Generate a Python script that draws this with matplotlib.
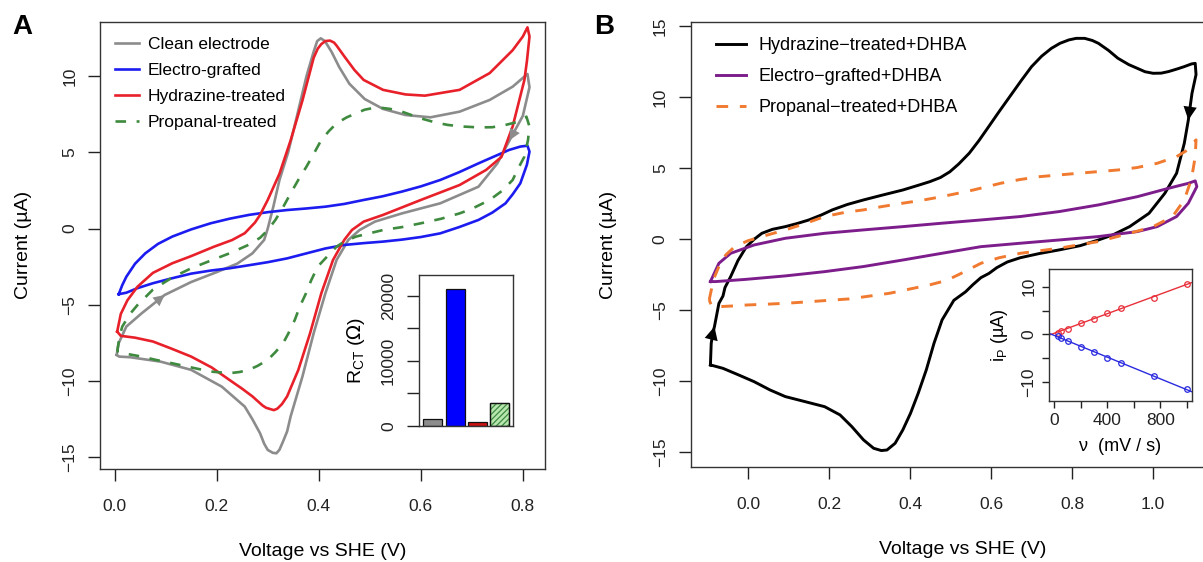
import numpy as np
import matplotlib.pyplot as plt

plt.rcParams['font.family'] = 'Liberation Sans'
plt.rcParams['hatch.linewidth'] = 0.9
plt.rcParams['lines.solid_joinstyle'] = 'round'

# ---- panel A: CVs of the four electrodes (V vs SHE, uA) ----
v_clean = [0.004, 0.008, 0.023, 0.053, 0.098, 0.15, 0.2, 0.24, 0.27, 0.293, 0.30, 0.311, 0.323,
           0.34, 0.357, 0.376, 0.39, 0.397, 0.404, 0.412, 0.425, 0.44, 0.46, 0.49, 0.526, 0.57,
           0.619, 0.676, 0.735, 0.78, 0.809,
           0.813, 0.80, 0.774, 0.75, 0.713, 0.638, 0.563, 0.51, 0.48, 0.458, 0.435, 0.413, 0.39,
           0.368, 0.345, 0.338, 0.33, 0.323, 0.317, 0.31, 0.30, 0.293, 0.285, 0.27, 0.255, 0.21,
           0.15, 0.09, 0.03, 0.009, 0.004]
i_clean = [-8.28, -7.5, -6.42, -5.55, -4.35, -3.5, -2.85, -2.3, -1.62, -0.74, 0.0, 1.44, 3.19,
           5.0, 7.34, 10.0, 11.6, 12.3, 12.48, 12.3, 11.6, 10.6, 9.5, 8.5, 7.85, 7.45,
           7.3, 7.67, 8.44, 9.31, 10.14,
           9.27, 7.4, 5.8, 4.28, 2.75, 1.66, 1.0, 0.46, -0.09, -0.74, -2.05, -4.24, -6.86,
           -9.7, -12.3, -13.3, -13.96, -14.5, -14.73, -14.7, -14.51, -14.1, -13.42, -12.5, -11.67, -10.36,
           -9.26, -8.72, -8.43, -8.39, -8.28]

v_graft = [0.008, 0.015, 0.023, 0.04, 0.06, 0.085, 0.113, 0.15, 0.188, 0.225, 0.263, 0.3, 0.338,
           0.375, 0.413, 0.45, 0.488, 0.525, 0.563, 0.6, 0.638, 0.675, 0.713, 0.745, 0.773, 0.795,
           0.809, 0.813, 0.808, 0.795, 0.78, 0.766, 0.74, 0.713, 0.675, 0.638, 0.6, 0.563, 0.526,
           0.488, 0.45, 0.413, 0.376, 0.338, 0.3, 0.263, 0.225, 0.188, 0.15, 0.113, 0.075, 0.045,
           0.023, 0.008]
i_graft = [-4.3, -3.7, -3.15, -2.3, -1.62, -1.0, -0.52, -0.05, 0.35, 0.65, 0.9, 1.08, 1.22,
           1.32, 1.44, 1.62, 1.88, 2.12, 2.43, 2.77, 3.19, 3.7, 4.28, 4.75, 5.16, 5.38,
           5.44, 5.05, 4.2, 2.97, 2.25, 1.66, 1.05, 0.57, 0.1, -0.31, -0.55, -0.72, -0.85,
           -0.95, -1.07, -1.3, -1.62, -1.95, -2.2, -2.4, -2.6, -2.75, -2.95, -3.25, -3.58, -3.9,
           -4.2, -4.3]

v_hydra = [0.005, 0.012, 0.025, 0.045, 0.075, 0.113, 0.15, 0.195, 0.23, 0.255, 0.275, 0.285,
           0.30, 0.323, 0.345, 0.368, 0.39, 0.398, 0.405, 0.413, 0.422, 0.43, 0.435, 0.45, 0.47,
           0.488, 0.526, 0.57, 0.608, 0.676, 0.735, 0.78, 0.80, 0.809,
           0.813, 0.808, 0.803, 0.78, 0.758, 0.728, 0.676, 0.6, 0.526, 0.488, 0.465, 0.45, 0.428,
           0.405, 0.383, 0.36, 0.338, 0.328, 0.319, 0.312, 0.304, 0.297, 0.29, 0.27, 0.25, 0.225,
           0.19, 0.15, 0.11, 0.075, 0.04, 0.012, 0.005]
i_hydra = [-6.75, -5.6, -4.7, -3.8, -2.9, -2.27, -1.8, -1.18, -0.75, -0.3, 0.4, 0.9,
           1.88, 3.6, 5.8, 8.4, 11.2, 11.8, 12.1, 12.3, 12.33, 12.2, 12.0, 11.3, 10.4,
           9.75, 9.1, 8.8, 8.72, 9.1, 10.2, 11.7, 12.6, 13.2,
           12.6, 11.0, 9.75, 6.7, 4.7, 3.85, 2.86, 1.88, 0.9, 0.46, -0.09, -0.74, -2.05,
           -4.24, -6.86, -9.26, -11.0, -11.5, -11.8, -11.9, -11.82, -11.75, -11.6, -11.0, -10.5, -9.92,
           -9.1, -8.39, -7.85, -7.4, -7.15, -7.03, -6.75]

v_prop = [0.005, 0.01, 0.015, 0.03, 0.045, 0.075, 0.113, 0.15, 0.188, 0.225, 0.26, 0.285, 0.3,
          0.315, 0.33, 0.345, 0.36, 0.376, 0.39, 0.405, 0.42, 0.435, 0.455, 0.473, 0.49, 0.514,
          0.54, 0.563, 0.6, 0.63, 0.653, 0.68, 0.713, 0.74, 0.766, 0.79, 0.807,
          0.813, 0.81, 0.803, 0.79, 0.78, 0.76, 0.735, 0.7, 0.676, 0.64, 0.6, 0.563, 0.526, 0.5,
          0.473, 0.45, 0.435, 0.42, 0.398, 0.385, 0.375, 0.363, 0.353, 0.34, 0.33, 0.315, 0.3,
          0.28, 0.263, 0.245, 0.225, 0.188, 0.15, 0.113, 0.08, 0.053, 0.03, 0.015, 0.005]
i_prop = [-8.06, -7.0, -6.42, -5.6, -5.0, -4.0, -3.2, -2.6, -2.1, -1.62, -1.1, -0.6, -0.1,
          0.57, 1.4, 2.32, 3.2, 4.07, 4.9, 5.81, 6.4, 6.91, 7.3, 7.56, 7.8, 7.96,
          7.85, 7.67, 7.23, 6.95, 6.8, 6.7, 6.64, 6.65, 6.8, 7.0, 7.34,
          6.69, 5.8, 4.72, 3.9, 3.19, 2.5, 1.88, 1.3, 1.0, 0.65, 0.35, 0.1, -0.09, -0.3,
          -0.52, -0.85, -1.18, -1.7, -2.49, -3.4, -4.24, -5.1, -5.99, -6.9, -7.52, -8.1, -8.61,
          -9.0, -9.26, -9.4, -9.48, -9.37, -9.1, -8.83, -8.6, -8.39, -8.25, -8.17, -8.06]

# inset A: charge-transfer resistance
rct_labels = ['Clean electrode', 'Electro-grafted', 'Hydrazine-treated', 'Propanal-treated']
rct_values = [1100, 21100, 680, 3550]

# ---- panel B: CVs with DHBA ----
v_hyd_d = [-0.093, -0.091, -0.087, -0.083, -0.072, -0.062, -0.057, -0.043, -0.025, -0.004, 0.015,
           0.034, 0.06, 0.092, 0.12, 0.15, 0.18, 0.208, 0.245, 0.285, 0.33, 0.382, 0.42, 0.449,
           0.475, 0.498, 0.52, 0.546, 0.57, 0.594, 0.62, 0.652, 0.675, 0.70, 0.725, 0.749, 0.77,
           0.792, 0.81, 0.831, 0.85, 0.865, 0.89, 0.913, 0.94, 0.961, 0.98, 1.0, 1.02, 1.038,
           1.06, 1.077, 1.095, 1.104,
           1.106, 1.096, 1.087, 1.077, 1.058, 1.029, 0.99, 0.942, 0.9, 0.865, 0.82, 0.768, 0.72,
           0.672, 0.64, 0.614, 0.595, 0.575, 0.555, 0.537, 0.508, 0.479, 0.459, 0.44, 0.42, 0.401,
           0.382, 0.363, 0.343, 0.329, 0.31, 0.285, 0.256, 0.227, 0.189, 0.14, 0.092, 0.054,
           0.015, -0.023, -0.062, -0.093]
i_hyd_d = [-8.85, -7.33, -6.6, -6.15, -4.51, -4.0, -3.4, -2.63, -1.5, -0.52, 0.0,
           0.42, 0.7, 0.89, 1.1, 1.36, 1.7, 2.07, 2.45, 2.77, 3.1, 3.47, 3.8, 4.06,
           4.35, 4.75, 5.3, 6.06, 6.95, 7.93, 9.0, 10.28, 11.2, 12.16, 12.9, 13.45, 13.8,
           14.04, 14.15, 14.15, 14.0, 13.8, 13.3, 12.75, 12.3, 12.04, 11.8, 11.69, 11.7, 11.81,
           12.0, 12.16, 12.35, 12.39,
           11.6, 10.28, 8.4, 6.76, 4.65, 3.24, 1.83, 0.89, 0.3, -0.05, -0.45, -0.75, -1.0,
           -1.3, -1.6, -2.0, -2.4, -2.7, -3.2, -3.7, -4.3, -5.68, -7.33, -9.2, -10.85, -12.26,
           -13.43, -14.37, -14.84, -14.88, -14.72, -14.13, -13.19, -12.37, -11.79, -11.43, -11.08, -10.61,
           -10.03, -9.56, -9.09, -8.85]

v_graft_d = [-0.093, -0.072, -0.043, 0.015, 0.092, 0.189, 0.285, 0.382, 0.478, 0.575, 0.672,
             0.768, 0.865, 0.961, 1.038, 1.087, 1.104, 1.108, 1.087, 1.058, 1.01, 0.961, 0.865,
             0.768, 0.672, 0.575, 0.478, 0.382, 0.285, 0.189, 0.092, -0.004, -0.08, -0.093]
i_graft_d = [-2.98, -1.69, -0.99, -0.4, 0.07, 0.42, 0.66, 0.89, 1.13, 1.36, 1.6,
             1.95, 2.42, 3.0, 3.59, 3.94, 4.11, 3.71, 2.54, 1.6, 0.89, 0.54, 0.19,
             -0.05, -0.28, -0.52, -0.99, -1.46, -1.92, -2.28, -2.58, -2.82, -2.98, -2.98]

v_prop_d = [-0.096, -0.091, -0.085, -0.072, -0.055, -0.033, 0.0, 0.034, 0.092, 0.14, 0.189, 0.24,
            0.285, 0.33, 0.382, 0.43, 0.478, 0.52, 0.556, 0.623, 0.67, 0.72, 0.816, 0.913, 0.96,
            1.01, 1.058, 1.08, 1.091, 1.106,
            1.104, 1.098, 1.091, 1.077, 1.048, 1.0, 0.942, 0.865, 0.768, 0.672, 0.62, 0.575,
            0.527, 0.49, 0.45, 0.4, 0.35, 0.3, 0.25, 0.189, 0.14, 0.092, 0.04, -0.004, -0.04,
            -0.075, -0.09, -0.096]
i_prop_d = [-4.27, -3.6, -2.8, -1.92, -1.1, -0.52, -0.1, 0.19, 0.66, 1.1, 1.6, 1.9,
            2.07, 2.3, 2.54, 2.75, 3.0, 3.25, 3.47, 3.94, 4.2, 4.41, 4.65, 4.88, 5.05,
            5.35, 5.82, 6.2, 6.53, 7.0,
            5.82, 4.8, 3.94, 2.77, 1.6, 0.89, 0.42, -0.16, -0.63, -0.99, -1.3, -1.69,
            -2.39, -2.9, -3.2, -3.5, -3.8, -4.0, -4.2, -4.32, -4.42, -4.51, -4.58, -4.63, -4.7,
            -4.75, -4.7, -4.27]

# inset B: peak current vs scan rate
scan_rate = [25, 50, 100, 200, 300, 400, 500, 750, 1000]
ip_anodic = [0.35, 0.7, 1.2, 2.45, 3.3, 4.5, 5.5, 7.6, 10.6]
ip_cathodic = [-0.35, -0.7, -1.4, -2.6, -3.8, -4.9, -6.1, -8.8, -11.5]

GRAY, BLUE, RED, GREEN = '#8c8c8c', '#1c1cf0', '#e8202a', '#3e8a3e'
PURPLE, ORANGE = '#7d1d8c', '#f07a30'
LW = 1.9


def arrow_on(ax, v, i, k, color, size):
    # arrow head sitting on the curve at point k, pointing along the sweep
    ax.annotate('', xy=(v[k], i[k]), xytext=(v[k - 1], i[k - 1]),
                arrowprops=dict(arrowstyle='-|>', color=color, lw=0,
                                mutation_scale=size, shrinkA=0, shrinkB=0))


def style_axes(ax, fs, length=8.5, xpad=13, ypad=8):
    ax.tick_params(direction='out', length=length, width=1, labelsize=fs, colors='#222222')
    ax.tick_params(axis='x', pad=xpad)
    ax.tick_params(axis='y', pad=ypad)
    for lab in ax.get_yticklabels():
        lab.set_rotation(90)
        lab.set_va('center')
    for s in ax.spines.values():
        s.set_linewidth(1.0)
        s.set_color('#333333')


fig = plt.figure(figsize=(12.03, 5.62), dpi=100)

# ---------------- panel A ----------------
axA = fig.add_axes([0.0835, 0.1655, 0.3698, 0.7959])
axA.plot(v_clean, i_clean, color=GRAY, lw=LW, label='Clean electrode')
axA.plot(v_graft, i_graft, color=BLUE, lw=LW, label='Electro-grafted')
axA.plot(v_hydra, i_hydra, color=RED, lw=LW, label='Hydrazine-treated')
axA.plot(v_prop, i_prop, color=GREEN, lw=LW, dashes=(4, 4), label='Propanal-treated')
arrow_on(axA, v_clean, i_clean, 4, GRAY, 20)
arrow_on(axA, v_clean, i_clean, 33, GRAY, 20)
axA.set_xlim(-0.0278, 0.844)
axA.set_ylim(-15.76, 13.57)
axA.set_xticks([0.0, 0.2, 0.4, 0.6, 0.8])
axA.set_yticks([-15, -10, -5, 0, 5, 10])
axA.set_xticklabels(['0.0', '0.2', '0.4', '0.6', '0.8'])
style_axes(axA, 12.5)
axA.set_xlabel('Voltage vs SHE (V)', fontsize=14)
axA.set_ylabel('Current (µA)', fontsize=14)
axA.xaxis.set_label_coords(0.5, -0.165)
axA.yaxis.set_label_coords(-0.153, 0.5)
axA.legend(loc='upper left', bbox_to_anchor=(0.032, 0.966), frameon=False, fontsize=12.5,
           handlelength=1.4, handletextpad=0.5, labelspacing=0.63, borderpad=0, borderaxespad=0)
fig.text(0.010, 0.975, 'A', fontsize=20, fontweight='bold', va='top')

# inset A: R_CT bars
axIA = fig.add_axes([0.3483, 0.242, 0.0781, 0.2687])
xb = np.arange(len(rct_values))
bar_fc = [GRAY, '#0000ff', '#cc1111', '#b8e6b0']
axIA.bar(xb, rct_values, width=0.85, color=bar_fc, edgecolor='#111111', lw=0.9)
axIA.bar(xb[3], rct_values[3], width=0.85, color='none', edgecolor='#3e8a3e', hatch='//////', lw=0)
axIA.bar(xb[3], rct_values[3], width=0.85, color='none', edgecolor='#111111', lw=0.9)
axIA.set_xlim(-0.61, 3.59)
axIA.set_ylim(0, 23230)
axIA.set_xticks([])
axIA.set_yticks([0, 5000, 10000, 15000, 20000])
axIA.set_yticklabels(['0', '', '10000', '', '20000'])
style_axes(axIA, 12.5)
axIA.set_ylabel(r'R$_\mathregular{CT}$ ($\Omega$)', fontsize=14)
axIA.yaxis.set_label_coords(-0.55, 0.5)

# ---------------- panel B ----------------
axB = fig.add_axes([0.5742, 0.1685, 0.4525, 0.7918])
axB.plot(v_hyd_d, i_hyd_d, color='black', lw=LW + 0.2, label='Hydrazine\u2212treated+DHBA')
axB.plot(v_graft_d, i_graft_d, color=PURPLE, lw=LW + 0.2, label='Electro\u2212grafted+DHBA')
axB.plot(v_prop_d, i_prop_d, color=ORANGE, lw=LW + 0.2, dashes=(4, 4),
         label='Propanal\u2212treated+DHBA')
arrow_on(axB, v_hyd_d, i_hyd_d, 3, 'black', 24)
arrow_on(axB, v_hyd_d, i_hyd_d, 56, 'black', 24)
axB.set_xlim(-0.1415, 1.2025)
axB.set_ylim(-16.06, 15.28)
axB.set_xticks([0.0, 0.2, 0.4, 0.6, 0.8, 1.0])
axB.set_xticklabels(['0.0', '0.2', '0.4', '0.6', '0.8', '1.0'])
axB.set_yticks([-15, -10, -5, 0, 5, 10, 15])
style_axes(axB, 12.5)
axB.set_xlabel('Voltage vs SHE (V)', fontsize=14)
axB.set_ylabel('Current (µA)', fontsize=14)
axB.xaxis.set_label_coords(0.5, -0.165)
axB.yaxis.set_label_coords(-0.135, 0.5)
axB.legend(loc='upper left', bbox_to_anchor=(0.046, 0.966), frameon=False, fontsize=13,
           handlelength=1.67, handletextpad=0.72, labelspacing=0.77, borderpad=0, borderaxespad=0)
fig.text(0.494, 0.975, 'B', fontsize=20, fontweight='bold', va='top')

# inset B: ip vs scan rate with linear fits
axIB = fig.add_axes([0.872, 0.2865, 0.1189, 0.2349])
for ip, col in [(ip_anodic, '#e8303a'), (ip_cathodic, '#2a2ae0')]:
    m, b = np.polyfit(scan_rate, ip, 1)
    axIB.axline((0, b), slope=m, color=col, lw=1.0)
    axIB.plot(scan_rate, ip, 'o', mfc='none', mec=col, ms=4, mew=0.9)
axIB.set_xlim(-40, 1040)
axIB.set_ylim(-14.04, 13.75)
axIB.set_xticks([0, 200, 400, 600, 800, 1000])
axIB.set_xticklabels(['0', '', '400', '', '800', ''])
axIB.set_yticks([-10, -5, 0, 5, 10])
axIB.set_yticklabels(['\u221210', '', '0', '', '10'])
style_axes(axIB, 12.5, length=5, xpad=4, ypad=4)
axIB.set_xlabel('\u03bd  (mV / s)', fontsize=13)
axIB.set_ylabel(r'i$_\mathregular{P}$ (µA)', fontsize=13)
axIB.xaxis.set_label_coords(0.5, -0.28)
axIB.yaxis.set_label_coords(-0.27, 0.5)

fig.savefig('out.png', dpi=100)
